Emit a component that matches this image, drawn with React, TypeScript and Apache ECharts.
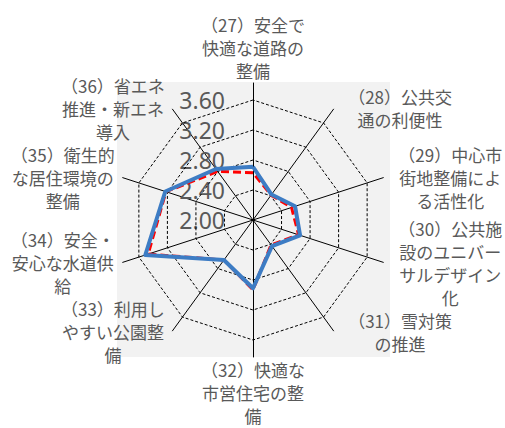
import React, { useEffect, useRef } from "react";
import * as echarts from "echarts";

// Chart order, clockwise from the top
const categories: string[] = [
  "（27）安全で\n快適な道路の\n整備",
  "（28）公共交\n通の利便性",
  "（29）中心市\n街地整備によ\nる活性化",
  "（30）公共施\n設のユニバー\nサルデザイン\n化",
  "（31）雪対策\nの推進",
  "（32）快適な\n市営住宅の整\n備",
  "（33）利用し\nやすい公園整\n備",
  "（34）安全・\n安心な水道供\n給",
  "（35）衛生的\nな居住環境の\n整備",
  "（36）省エネ\n推進・新エネ\n導入",
];
const seriesBlue: number[] = [2.71, 2.42, 2.59, 2.66, 2.43, 2.91, 2.66, 3.51, 3.23, 2.84];
const seriesRed: number[] = [2.63, 2.41, 2.54, 2.64, 2.41, 2.93, 2.66, 3.47, 3.22, 2.8];
const axisMin = 2.0;
const axisMax = 3.6;
const axisStep = 0.4;

// ECharts places radar indicators counter-clockwise; reorder so chart reads clockwise
const ecOrder = [0, 9, 8, 7, 6, 5, 4, 3, 2, 1];

const TEXT = "#595959";
const CJK = "'Noto Sans CJK JP', 'Noto Sans', sans-serif";

export default function App() {
  const ref = useRef<HTMLDivElement>(null);
  useEffect(() => {
    if (!ref.current) return;
    const chart = echarts.init(ref.current, null, { renderer: "svg" });
    const cats = ecOrder.map((i) => categories[i]);
    const sideOf = (name: string) => {
      const i = categories.indexOf(name);
      if (i === 0) return "t";
      if (i === 5) return "b";
      if (i >= 1 && i <= 4) return "r";
      return "l";
    };
    const lineStyleBase = { fontSize: 17, lineHeight: 23, color: TEXT, fontFamily: CJK, align: "center" };
    const option: any = {
      animation: false,
      backgroundColor: "#ffffff",
      graphic: [
        {
          type: "rect",
          z: -10,
          silent: true,
          shape: { x: 117, y: 82, width: 273, height: 275 },
          style: { fill: "#f2f2f2" },
        },
      ],
      grid: { left: 253, top: 100, width: 10, height: 120, containLabel: false },
      xAxis: { type: "value", show: false, min: 0, max: 1 },
      yAxis: {
        type: "value",
        min: axisMin,
        max: axisMax,
        interval: axisStep,
        axisLine: { show: false },
        axisTick: { show: false },
        splitLine: { show: false },
        axisLabel: {
          margin: 28,
          fontSize: 23,
          color: TEXT,
          fontFamily: "'Noto Sans', sans-serif",
          formatter: (v: number) => v.toFixed(2),
        },
        z: 1,
      },
      radar: [
        {
          center: [253, 220],
          radius: 137,
          startAngle: 90,
          shape: "polygon",
          indicator: cats.map((c) => ({ name: c, min: 0, max: 1 })),
          axisName: { show: false },
          splitNumber: 1,
          splitLine: { show: false },
          splitArea: { show: false },
          axisTick: { show: false },
          axisLabel: { show: false },
          axisLine: { show: true, lineStyle: { color: "#000000", width: 1 } },
          z: 1,
        },
        {
          center: [253, 220],
          radius: 120,
          startAngle: 90,
          shape: "polygon",
          splitNumber: 4,
          indicator: cats.map((c) => ({ name: c, min: axisMin, max: axisMax })),
          nameGap: 18,
          axisName: {
            show: true,
            color: TEXT,
            fontFamily: CJK,
            fontSize: 17,
            lineHeight: 23,
            formatter: (name: string) => {
              const s = sideOf(name);
              return name
                .split("\n")
                .map((l) => `{${s}|${l}}`)
                .join("\n");
            },
            rich: {
              t: { ...lineStyleBase, width: 120 },
              b: { ...lineStyleBase, width: 120 },
              r: { ...lineStyleBase, width: 132 },
              l: { ...lineStyleBase, width: 118 },
            },
          },
          splitLine: { show: true, lineStyle: { color: "#000000", width: 1, type: [3, 2] } },
          splitArea: { show: false },
          axisLine: { show: false },
          axisTick: { show: false },
          axisLabel: { show: false },
          z: 2,
        },
      ],
      series: [
        {
          name: "系列2",
          type: "radar",
          radarIndex: 1,
          symbol: "none",
          z: 3,
          lineStyle: { color: "#ff0000", width: 3, type: [8, 4] },
          data: [{ value: ecOrder.map((i) => seriesRed[i]) }],
        },
        {
          name: "系列1",
          type: "radar",
          radarIndex: 1,
          symbol: "none",
          z: 4,
          lineStyle: { color: "#3d7cc4", width: 4 },
          data: [{ value: ecOrder.map((i) => seriesBlue[i]) }],
        },
      ],
    };
    chart.setOption(option);
    return () => chart.dispose();
  }, []);
  return (
    <div
      ref={ref}
      style={{ position: "fixed", left: 0, top: 0, width: 505, height: 428 }}
    />
  );
}
